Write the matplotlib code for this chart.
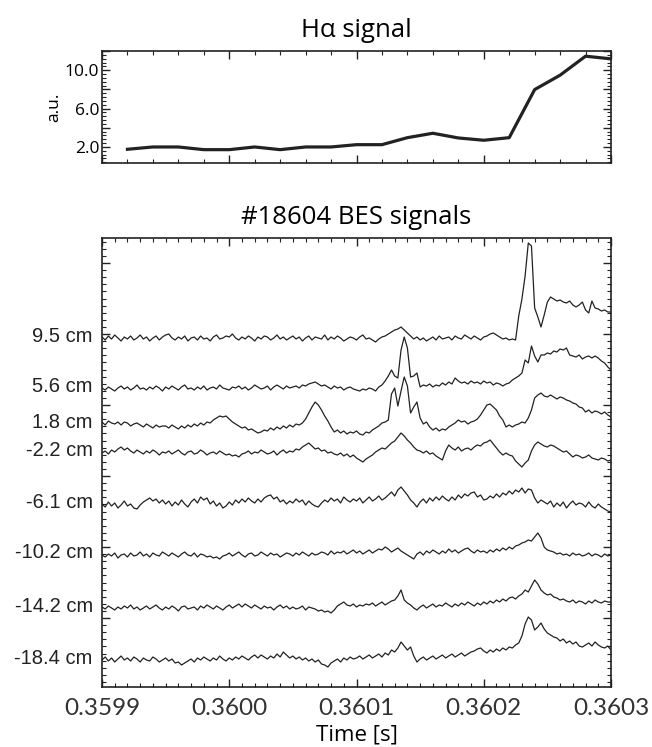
import numpy as np
import matplotlib
matplotlib.use("Agg")
import matplotlib.pyplot as plt
import matplotlib.transforms as mtransforms
from matplotlib.ticker import MultipleLocator, FixedLocator, NullFormatter, FuncFormatter

# H-alpha signal
ha_time = [0.35992, 0.35994, 0.35996, 0.35998, 0.36000, 0.36002, 0.36004, 0.36006, 0.36008, 0.36010,
           0.36012, 0.36014, 0.36016, 0.36018, 0.36020, 0.36022, 0.36024, 0.36026, 0.36028, 0.36030]
ha_val = [1.76, 2.0, 2.0, 1.72, 1.72, 2.0, 1.72, 2.0, 2.0, 2.24,
          2.24, 2.97, 3.43, 2.94, 2.70, 2.97, 7.98, 9.48, 11.46, 11.18]

# BES signals (2.5 us sampling, relative amplitude)
bes_time = np.linspace(0.3599, 0.3603, 161)

ch_labels = ["9.5 cm", "5.6 cm", "1.8 cm", "-2.2 cm", "-6.1 cm", "-10.2 cm", "-14.2 cm", "-18.4 cm"]
ch_offset = [349, 299, 263, 234, 183, 132, 79, 27]

bes_95 = [1, -2, 2, -1, 3, 0, -3, 1, -1, 2, -2, 0, 3, -1, 1, -3, 0, 2, -2, 1,
          3, 4, 0, -2, 1, -1, 2, -3, 0, 1, -2, 2, -1, 0, -3, 1, 3, -1, 0, 2,
          1, 4, 0, -2, 1, -1, 2, 0, -3, 1, -1, 2, 1, -2, 0, 3, -1, 1, -2, 0,
          2, -1, 1, -3, 0, 2, -2, 1, 0, -1, 3, -2, 1, -1, 2, 0, -3, -1, 1, 0,
          -2, 1, 3, -1, 0, -2, -4, -1, 1, 2, 4, 6, 8, 9, 11, 8, 5, 2, -1, 1,
          -2, 0, -3, -1, 1, -2, 2, -1, 0, 1, -2, 2, 0, -1, 3, 1, -1, 2, 0, -2,
          1, 2, 4, 5, 3, 1, -1, 0, -2, -1, -2, 22, 39, 62, 95, 92, 30, 21, 11, 23,
          36, 41, 39, 37, 38, 36, 35, 37, 33, 31, 33, 36, 28, 25, 37, 30, 29, 27, 28, 26,
          26]
bes_56 = [0, -2, 1, -1, -3, 0, 2, -1, 1, -2, 0, 3, -1, 0, -2, 1, -1, 2, 0, -3,
          1, -1, 2, 0, -2, 1, 3, -1, 0, -2, 1, -1, 2, -2, 0, 1, -1, 3, 0, -1,
          -2, 1, 0, 2, -1, 1, -2, 0, 3, 1, -1, 0, 2, -2, 1, 3, 1, -1, 2, 0,
          1, 2, 0, 3, 2, 4, 5, 6, 4, 2, 3, 1, -1, 2, 0, 1, -2, 0, 1, -1,
          -2, -3, -1, -2, 0, -1, -3, 1, 3, 7, 12, 18, 12, 10, 38, 51, 40, 11, 12, 15,
          1, 3, 2, 4, 1, 3, 2, 5, 3, 6, 4, 10, 7, 5, 6, 4, 7, 5, 6, 4,
          7, 5, 6, 3, 5, 4, 2, 4, 5, 8, 10, 12, 15, 28, 25, 42, 32, 26, 33, 33,
          35, 34, 37, 36, 39, 38, 40, 33, 32, 31, 33, 29, 31, 32, 30, 32, 30, 27, 25, 21,
          18]
bes_18 = [2, -1, 3, 1, 0, 2, -1, 2, 1, -2, 0, 1, -1, -3, 0, -2, -4, -1, -3, -2,
          -2, -4, -1, -3, -5, -2, -4, -1, -3, 0, -2, 1, -1, 2, 1, 4, 6, 8, 7, 8,
          5, 2, 0, -2, -4, -3, -6, -5, -7, -9, -8, -6, -7, -4, -6, -3, -5, -2, -4, -1,
          -3, 0, -1, 1, 5, 11, 17, 22, 19, 14, 8, 3, -3, -8, -6, -9, -7, -10, -8, -9,
          -7, -10, -11, -8, -9, -6, -4, -2, 1, 2, 4, 30, 36, 18, 33, 47, 38, 11, 17, 22,
          6, 0, 2, -3, -6, -4, -7, -5, -6, -3, -1, 1, 4, 2, 3, 0, 2, 3, 5, 9,
          14, 19, 20, 17, 14, 8, 4, -3, -1, -3, -1, 0, 2, 1, 6, 14, 26, 29, 31, 28,
          27, 29, 27, 25, 27, 26, 24, 23, 21, 20, 17, 16, 12, 14, 11, 13, 12, 10, 12, 9,
          7]
bes_m22 = [0, 2, -1, 3, 1, 4, 6, 3, 5, 2, 0, 3, 1, -1, 2, 0, 3, 1, -2, 1,
           0, 2, -1, 1, 3, 0, -2, 1, 2, -1, 0, 3, 1, -2, 0, 1, -1, 2, 0, -2,
           -1, -3, -2, -4, -1, 0, 2, -1, 1, 0, 3, 1, -1, 0, 2, -2, 1, 3, 0, 2,
           1, 4, 3, 6, 8, 10, 7, 4, 5, 2, 3, 0, 1, -1, -2, 0, -3, -1, -4, -2,
           -5, -7, -9, -6, -4, -2, 1, 3, 5, 4, 7, 10, 12, 16, 20, 17, 13, 10, 6, 3,
           2, 0, 2, -1, 0, -3, -5, -7, 2, 8, 5, 3, 6, 2, 4, 5, 3, 6, 8, 7,
           10, 11, 13, 9, 5, 1, -2, 0, -2, -3, -8, -11, -14, -10, -7, 2, 8, 11, 9, 7,
           6, 8, 7, 5, 3, 1, 2, -1, -4, -2, -3, -5, -4, -2, -5, -6, -7, -5, -6, -8,
           -7]
bes_m61 = [0, -3, 2, -2, 1, -4, -1, 3, -2, 0, -4, -5, -1, 2, 4, 6, 3, 5, 1, 4,
           0, 3, -2, 2, -1, 4, 0, -3, 2, 5, 1, 7, 4, 6, 0, 3, -2, 1, -4, -2,
           2, -1, 4, 1, 5, 2, 6, 3, 1, 5, 2, 6, 8, 9, 5, 7, 2, 4, 0, 3,
           1, 5, 2, 4, -1, 3, 0, -2, -3, 1, 4, 2, 6, 3, 5, 1, 7, 4, 2, 5,
           3, 6, 1, 4, 7, 3, 5, 8, 4, 6, 9, 12, 8, 14, 17, 13, 9, 4, 1, -3,
           2, 5, 1, 6, 3, 7, 4, 8, 5, 3, 7, 4, 9, 6, 10, 8, 11, 12, 7, 9,
           4, 5, 8, 6, 10, 7, 11, 9, 13, 10, 14, 12, 16, 11, 15, 14, 6, 1, 4, 2,
           0, 3, -3, 1, -2, 2, -4, 0, 3, -1, 1, 0, -3, 2, -2, -4, 0, -3, -5, -7,
           -8]
bes_m102 = [0, -2, 1, -1, 2, -3, 0, 1, -2, 2, -1, 0, 3, -1, 1, -2, 2, 0, -1, 3,
            1, -1, 2, 0, -2, 1, 3, 0, -1, 2, -2, 1, 0, -2, -1, -3, -2, -4, -1, 0,
            2, -1, 1, 3, 0, -2, 1, 2, -1, 0, 3, 1, -1, 2, 0, 1, -2, 0, 2, 1,
            -1, 2, 0, 3, 1, -1, 2, 0, 1, 3, 2, 0, 4, 1, 3, 2, 4, 1, 3, 5,
            2, 4, 1, 3, 5, 2, 4, 6, 5, 8, 6, 3, 5, 7, 4, 2, 0, -2, -4, 1,
            3, 0, 4, 2, 5, 3, 1, 4, 2, 6, 3, 5, 2, 4, 6, 7, 4, 2, 5, 3,
            4, 2, 5, 3, 6, 4, 7, 5, 8, 6, 9, 10, 12, 13, 15, 14, 18, 22, 17, 8,
            5, 4, 3, 1, 2, 0, 1, -1, 2, 0, 1, -1, 0, 2, -1, 1, 0, -2, 1, -1,
            0]
bes_m142 = [1, -1, 2, 0, -2, 1, -1, 2, 0, 3, -1, 1, -2, 0, 2, -1, 1, 3, 0, -2,
            1, -1, 2, 0, -3, 1, 2, -1, 0, 1, -2, 2, 0, 3, 1, -1, 2, 0, -2, 1,
            3, 0, 2, 4, 1, 4, 2, 0, 3, 1, -1, 2, 0, 1, -2, 1, 3, 0, 2, -1,
            1, -1, 0, 2, -2, 1, 0, -1, -3, -2, -4, -3, -5, -2, 2, 4, 6, 3, 2, 4,
            1, 3, 2, 4, 3, 5, 2, 4, 6, 3, 5, 7, 8, 12, 18, 8, 5, 3, 0, -2,
            1, 3, 0, 2, 4, 1, 3, 2, 5, 3, 1, 4, 2, 5, 3, 6, 4, 2, 5, 3,
            6, 4, 7, 5, 8, 6, 9, 7, 10, 11, 9, 12, 14, 18, 16, 22, 28, 24, 18, 15,
            13, 14, 11, 10, 8, 9, 7, 6, 8, 5, 7, 6, 4, 7, 5, 8, 6, 5, 7, 6,
            6]
bes_m184 = [0, 3, -1, 2, -2, 1, 4, 0, 2, -1, 3, 1, -2, 2, 0, -1, 3, 1, -2, 0,
            2, -1, 1, -3, -2, -5, -3, -1, 1, -2, 2, 0, 3, 1, -1, 2, 0, 4, 1, -1,
            2, 0, 3, 1, 4, 2, 0, 3, 5, 2, 5, 3, 1, 4, 2, 6, 3, 8, 5, 2,
            4, 1, 3, 0, 2, -1, 1, -2, 0, -4, -5, -7, -3, -1, 1, -2, 2, 0, 3, 1,
            2, 4, 1, 3, 5, 2, 4, 6, 3, 7, 5, 10, 8, 12, 18, 14, 10, 13, 4, -2,
            1, 3, 0, 2, 4, 1, 3, 5, 2, 4, 6, 3, 5, 7, 4, 6, 8, 9, 11, 12,
            9, 7, 10, 8, 11, 9, 12, 10, 13, 12, 15, 17, 24, 36, 43, 40, 30, 33, 37, 31,
            27, 25, 23, 22, 19, 21, 17, 19, 16, 18, 14, 13, 15, 17, 14, 18, 15, 13, 12, 14,
            10]

bes = [bes_95, bes_56, bes_18, bes_m22, bes_m61, bes_m102, bes_m142, bes_m184]

W, H = 652, 747
fig = plt.figure(figsize=(W / 100, H / 100), dpi=100)
ax1 = fig.add_axes([102 / W, 1 - 163 / H, 509 / W, 112 / H])
ax2 = fig.add_axes([102 / W, 1 - 687 / H, 509 / W, 449 / H])

title_font = "Open Sans"
line_col = "#222222"

for ax in (ax1, ax2):
    for s in ax.spines.values():
        s.set_linewidth(1.2)
        s.set_color("#222222")
    ax.tick_params(which="both", direction="in", top=True, right=True, color="#222222")
    ax.tick_params(which="major", length=6, width=1.0)
    ax.tick_params(which="minor", length=3, width=0.8)

# --- H-alpha panel ---
ax1.plot(ha_time, ha_val, color=line_col, lw=2.3, solid_joinstyle="round")
ax1.set_xlim(0.3599, 0.3603)
ax1.set_ylim(0.33, 12.0)
ax1.xaxis.set_major_locator(MultipleLocator(0.0001))
ax1.xaxis.set_minor_locator(MultipleLocator(0.00002))
ax1.xaxis.set_major_formatter(NullFormatter())
ax1.yaxis.set_major_locator(MultipleLocator(2))
ax1.yaxis.set_minor_locator(MultipleLocator(0.4))
ax1.yaxis.set_major_formatter(FuncFormatter(lambda v, p: f"{v:.1f}" if int(round(v)) in (2, 6, 10) else ""))
for lab in ax1.get_yticklabels():
    lab.set_fontfamily(title_font)
ax1.tick_params(axis="y", labelsize=12.5, pad=2)
ax1.set_ylabel("a.u.", fontsize=12.5, fontfamily=title_font, labelpad=2)
ax1.set_title("Hα signal", fontsize=18.5, fontfamily=title_font, pad=10)

# --- BES panel ---
for vals, off in zip(bes, ch_offset):
    ax2.plot(bes_time, np.array(vals) + off, color=line_col, lw=0.9)

ax2.set_xlim(0.3599, 0.3603)
ax2.set_ylim(0, 449)
ax2.xaxis.set_major_locator(MultipleLocator(0.0001))
ax2.xaxis.set_minor_locator(MultipleLocator(0.00001))
ax2.xaxis.set_major_formatter(FuncFormatter(lambda v, p: f"{v:.4f}"))
ax2.yaxis.set_major_locator(FixedLocator(np.arange(69, 449, 71)))
ax2.yaxis.set_minor_locator(FixedLocator(np.arange(5.1, 449, 7.1)))
ax2.yaxis.set_major_formatter(NullFormatter())
ax2.tick_params(axis="x", labelsize=17.5, pad=8, labelcolor="#333333")
for lab in ax2.get_xticklabels():
    lab.set_fontfamily("Lato")
ax2.set_xlabel("Time [s]", fontsize=16, fontfamily=title_font, labelpad=4)
ax2.set_title("#18604 BES signals", fontsize=18.5, fontfamily=title_font, pad=10)

trans = mtransforms.blended_transform_factory(ax2.transAxes, ax2.transData)
for lab, off in zip(ch_labels, ch_offset):
    ax2.text(-0.018, off + 2, lab, transform=trans, ha="right", va="center",
             fontsize=14.5, fontfamily="Liberation Sans", color="#222222")

fig.savefig("out.png", dpi=100)
